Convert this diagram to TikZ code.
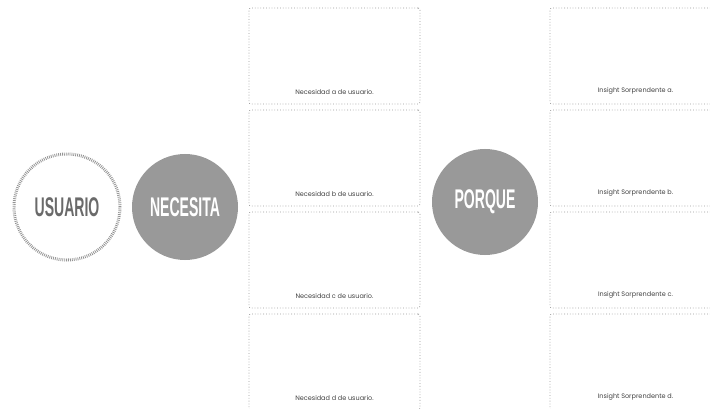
\documentclass[tikz,border=0pt]{standalone}
\usepackage{fontspec}
\setmainfont{Poppins}
\newfontfamily\titlefont[FakeStretch=0.52]{Liberation Sans}
\usetikzlibrary{positioning}
\definecolor{bubblegray}{HTML}{999999}
\definecolor{dotgray}{HTML}{9A9A9A}
\definecolor{titlegray}{HTML}{6A6A6A}
\tikzset{
  bubble/.style={circle, fill=bubblegray, minimum size=106pt, inner sep=0pt, text=white,
    font=\titlefont\bfseries\fontsize{27}{27}\selectfont},
  userbubble/.style={bubble, fill=none, draw=gray!85, line width=3pt,
    dash pattern=on 0.8pt off 1.1pt, text=titlegray},
  card/.style={draw=dotgray, dotted, line width=0.8pt, rounded corners=2pt,
    minimum width=171pt, minimum height=96pt, inner sep=0pt},
  cardtext/.style={font=\fontsize{6.5}{7}\selectfont, text=black!75, inner sep=0pt},
}
\begin{document}
\begin{tikzpicture}[x=1pt, y=-1pt]
\useasboundingbox (0,0) rectangle (710,409);
\clip (0,0) rectangle (710,409);
\node[userbubble] (usuario) at (67,207) {USUARIO};
\node[bubble] (necesita) at (185,207) {NECESITA};
\node[bubble] (porque) at (485,202) {PORQUE};
% tarjetas
\foreach \k/\yc in {a/56, b/158, c/260, d/362}
{
  \node[card] (need\k) at (334.5,\yc) {};
  \node[cardtext, above=10pt of need\k.south] (needtext\k) {Necesidad \k{} de usuario.};
  \node[card] (ins\k) at (635.5,\yc) {};
  \node[cardtext, above=10pt of ins\k.south] (instext\k) {Insight Sorprendente \k.};
}
\end{tikzpicture}
\end{document}
